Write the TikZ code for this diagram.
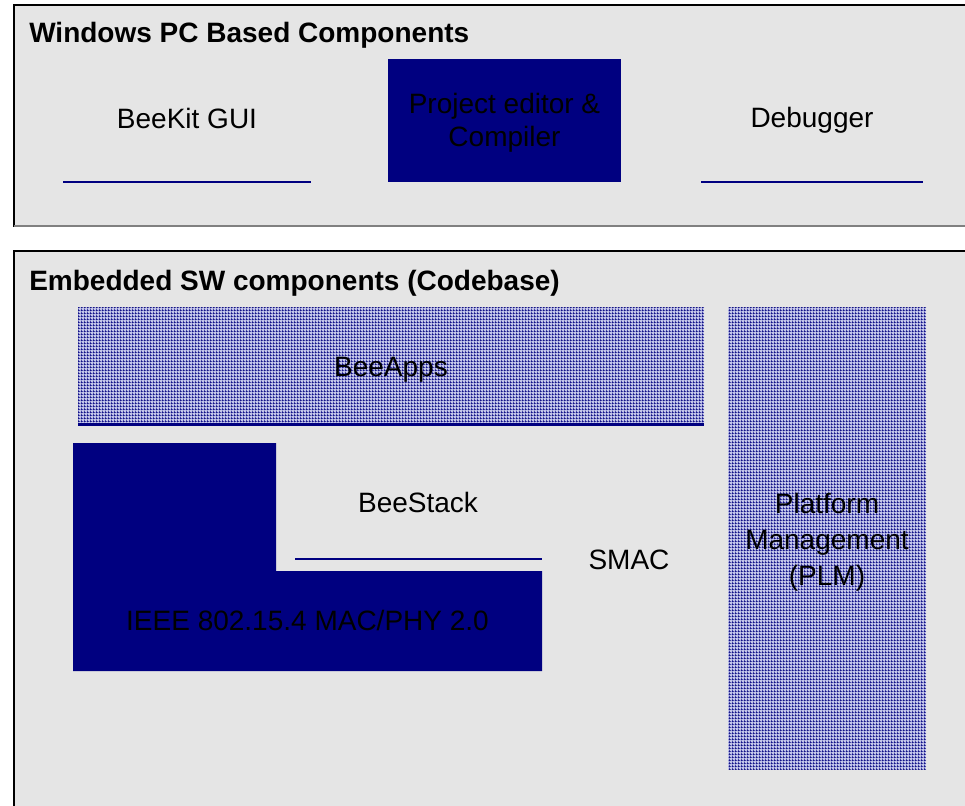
\documentclass[tikz,border=0pt]{standalone}
\usepackage{fontspec}
\setmainfont{Liberation Sans}
\usetikzlibrary{patterns}
\definecolor{navy}{HTML}{000080}
\definecolor{panel}{HTML}{E5E5E5}
\definecolor{shadow}{HTML}{808080}
\definecolor{gridbg}{HTML}{C4C6EA}
\pgfdeclarepatternformonly{finegrid}{\pgfqpoint{0pt}{0pt}}{\pgfqpoint{2.25pt}{2.25pt}}{\pgfqpoint{2.25pt}{2.25pt}}{%
  \pgfpathrectangle{\pgfqpoint{0pt}{0pt}}{\pgfqpoint{2.25pt}{0.7pt}}%
  \pgfpathrectangle{\pgfqpoint{0pt}{0pt}}{\pgfqpoint{0.7pt}{2.25pt}}%
  \pgfusepath{fill}}
\tikzset{
  lbl/.style={inner sep=0pt, font=\fontsize{21}{26}\selectfont, text=black},
  ttl/.style={lbl, font=\fontsize{21}{26}\selectfont\bfseries, anchor=base west},
  solidbox/.style={fill=navy},
  gridbox/.style={pattern=finegrid, pattern color=navy},
  thinrule/.style={draw=navy, line width=0.8pt},
  thickrule/.style={draw=navy, line width=1.6pt},
}
\begin{document}
\begin{tikzpicture}[x=0.75pt, y=-0.75pt]
\useasboundingbox (0,0) rectangle (965,806);
% top panel
\fill[panel] (14,5) rectangle (975,227);
\draw[black, line width=0.9pt] (14,227) -- (14,5) -- (975,5);
\draw[shadow, line width=1.5pt] (14,226.5) -- (975,226.5);
\node[ttl] (wtitle) at (29,43) {Windows PC Based Components};
\node[lbl, anchor=base] (beekit) at (187,129) {BeeKit GUI};
\coordinate (bk1) at (63,182); \coordinate (bk2) at (311,182);
\draw[thinrule] (bk1) -- (bk2);
\fill[solidbox] (388,59) rectangle (621,182);
\node[lbl, align=center, font=\fontsize{21}{24.75}\selectfont] (proj) at (504.5,122.5) {Project editor \&\\Compiler};
\node[lbl, anchor=base] (debug) at (812,128) {Debugger};
\coordinate (db1) at (701,182); \coordinate (db2) at (923,182);
\draw[thinrule] (db1) -- (db2);
% bottom panel
\fill[panel] (14,251) rectangle (975,815);
\draw[black, line width=0.9pt] (14,815) -- (14,251) -- (975,251);
\node[ttl] (etitle) at (29,291) {Embedded SW components (Codebase)};
% BeeApps
\fill[gridbg] (78,308) rectangle (704,425);
\fill[gridbox] (78,308) rectangle (704,425);
\draw[navy, line width=2pt] (78,424.5) -- (704,424.5);
\node[lbl, anchor=base] (beeapps) at (391,376) {BeeApps};
% PLM
\fill[gridbg] (728,308) rectangle (926,769);
\fill[gridbox] (728,308) rectangle (926,769);
\node[lbl, align=center, font=\fontsize{21}{27}\selectfont] (plm) at (827,542) {Platform\\Management\\(PLM)};
% IEEE
\fill[solidbox] (73,443) -- (276,443) -- (276,571) -- (542,571) -- (542,671) -- (73,671) -- cycle;
\node[lbl, anchor=base] (ieee) at (307.5,630) {IEEE 802.15.4 MAC/PHY 2.0};
\node[lbl, anchor=base] (beestack) at (418,512) {BeeStack};
\coordinate (bs1) at (295,559); \coordinate (bs2) at (542,559);
\draw[thickrule] (bs1) -- (bs2);
\node[lbl, anchor=base] (smac) at (629,569) {SMAC};
\end{tikzpicture}
\end{document}
